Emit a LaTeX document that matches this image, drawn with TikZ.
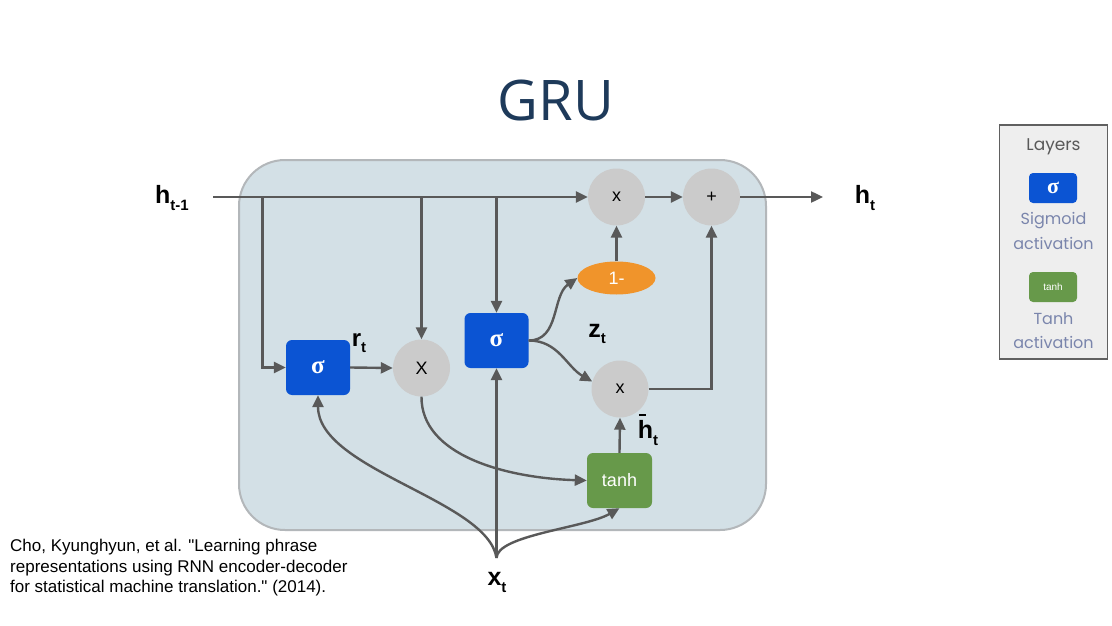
\documentclass[tikz,border=0pt]{standalone}
\usepackage{fontspec}
\setmainfont{Liberation Sans}
\newfontfamily\titlefont{Open Sans}
\newfontfamily\legendfont{Poppins}
\newfontfamily\sigfont{Liberation Serif}
\newfontfamily\citefont{Liberation Sans}[Ligatures=TeXOff]
\usetikzlibrary{arrows.meta,shapes.geometric}
\definecolor{cellfill}{HTML}{D3E0E6}
\definecolor{cellline}{HTML}{B3B7BA}
\definecolor{gateblue}{HTML}{0B54D3}
\definecolor{opgray}{HTML}{CBCBCB}
\definecolor{orng}{HTML}{F0942B}
\definecolor{grn}{HTML}{67994A}
\definecolor{arrowc}{HTML}{595959}
\definecolor{titlec}{HTML}{1E3A5A}
\definecolor{legtext}{HTML}{7A85AC}
\definecolor{legfill}{HTML}{EEEEEE}
\definecolor{legline}{HTML}{606060}
\newcommand{\fs}[1]{\fontsize{#1}{#1}\selectfont}
\begin{document}
\begin{tikzpicture}[x=1pt,y=-1pt,
  cellbox/.style={draw=cellline,fill=cellfill,line width=2pt,rounded corners=46pt,minimum width=527pt,minimum height=370pt,inner sep=0},
  gate/.style={fill=gateblue,rounded corners=6pt,minimum width=64pt,minimum height=55pt,inner sep=0,text=white,font=\sigfont\bfseries\fs{25}},
  opnode/.style={circle,fill=opgray,minimum size=57pt,inner sep=0,font=\fs{18}},
  onem/.style={ellipse,fill=orng,minimum width=78pt,minimum height=33pt,inner sep=0,text=white,font=\fs{18}},
  tanhbox/.style={fill=grn,rounded corners=6pt,minimum width=65pt,minimum height=55pt,inner sep=0,text=white,font=\fs{18}},
  lab/.style={inner sep=0,font=\bfseries},
  arr/.style={draw=arrowc,line width=2.4pt,-{Triangle[length=12pt,width=11pt]}},
  legbox/.style={draw=legline,fill=legfill,line width=1.6pt,minimum width=108pt,minimum height=234pt,inner sep=0},
  legtxt/.style={inner sep=0,text=legtext,font=\legendfont\fs{16}},
]
\useasboundingbox (0,0) rectangle (1112,626);
\fill[white] (0,0) rectangle (1112,626);

\node[inner sep=0,text=titlec,font=\titlefont\fs{56}] (title) at (556,100) {GRU};

\node[cellbox] (cell) at (502.5,345) {};

\node[gate] (s1) at (318,367.5) {σ};
\node[gate] (s2) at (496.5,340.5) {σ};
\node[opnode] (mr) at (421.5,368) {X};
\node[opnode] (mz) at (616.5,197) {x};
\node[opnode] (add) at (711.5,197) {+};
\node[opnode] (mh) at (620,389) {x};
\node[onem] (om) at (616.5,278) {1-};
\node[tanhbox] (th) at (619.5,480.5) {tanh};

\node[lab] (hprev) at (172,198) {\fs{25}h\raisebox{-7pt}{\fs{15}t-1}};
\node[lab] (hnext) at (865,198) {\fs{25}h\raisebox{-7pt}{\fs{15}t}};
\node[lab] (rt) at (359,343) {\fs{24}r\raisebox{-6pt}{\fs{15}t}};
\node[lab] (zt) at (597,334) {\fs{25}z\raisebox{-6pt}{\fs{15}t}};
\node[lab] (hbar) at (648,430) {\fs{25}\makebox[0pt][l]{\hspace{1pt}\raisebox{23pt}{\rule{7pt}{2pt}}}h\raisebox{-7pt}{\fs{15}t}};
\node[lab] (xt) at (497,582) {\fs{25}x\raisebox{-7pt}{\fs{15}t}};

\coordinate (hin) at (213,197);
\coordinate (hout) at (823,197);
\coordinate (b1) at (262.5,197);
\coordinate (xs) at (496.5,558);

\draw[arr] (hin) -- (mz.west);
\draw[arr] (b1) |- (s1.west);
\draw[arr] (mr.north |- hin) -- (mr.north);
\draw[arr] (s2.north |- hin) -- (s2.north);
\draw[arr] (s1.east) -- (mr.west);
\draw[arr] (s2.east) to[out=0,in=215] (om.west);
\draw[arr] (s2.east) to[out=0,in=150] (mh.165);
\draw[arr] (om.north) -- (mz.south);
\draw[arr] (mz.east) -- (add.west);
\draw[arr] (mh.east) -| (add.south);
\draw[arr] (add.east) -- (hout);
\draw[arr] (th.north) -- (mh.south);
\draw[arr] (mr.south) .. controls (421,455) and (505,478) .. (th.west);
\draw[arr] (xs) -- (s2.south);
\draw[arr] (xs) .. controls (488,500) and (318,470) .. (s1.south);
\draw[arr] (xs) .. controls (497,535) and (585,528) .. (th.south);

\node[anchor=north west,inner sep=0,align=left,font=\citefont\fontsize{17}{20.5}\selectfont,text=black] (cite) at (10,539)
  {Cho, Kyunghyun, et al. "Learning phrase\\representations using RNN encoder-decoder\\for statistical machine translation." (2014).};

\node[legbox] (leg) at (1053.5,242) {};
\node[inner sep=0,text=arrowc,font=\legendfont\fs{17}] (leghead) at (1053.5,147) {Layers};
\node[fill=gateblue,rounded corners=4pt,minimum width=48pt,minimum height=30pt,inner sep=0,text=white,font=\sigfont\bfseries\fs{22}] (legs) at (1053,188) {σ};
\node[legtxt] (legs1) at (1053.5,221) {Sigmoid};
\node[legtxt] (legs2) at (1053.5,243) {activation};
\node[fill=grn,rounded corners=4pt,minimum width=48pt,minimum height=30pt,inner sep=0,text=white,font=\fs{10}] (legt) at (1053,287) {tanh};
\node[legtxt] (legt1) at (1053.5,319) {Tanh};
\node[legtxt] (legt2) at (1053.5,342) {activation};
\end{tikzpicture}
\end{document}
